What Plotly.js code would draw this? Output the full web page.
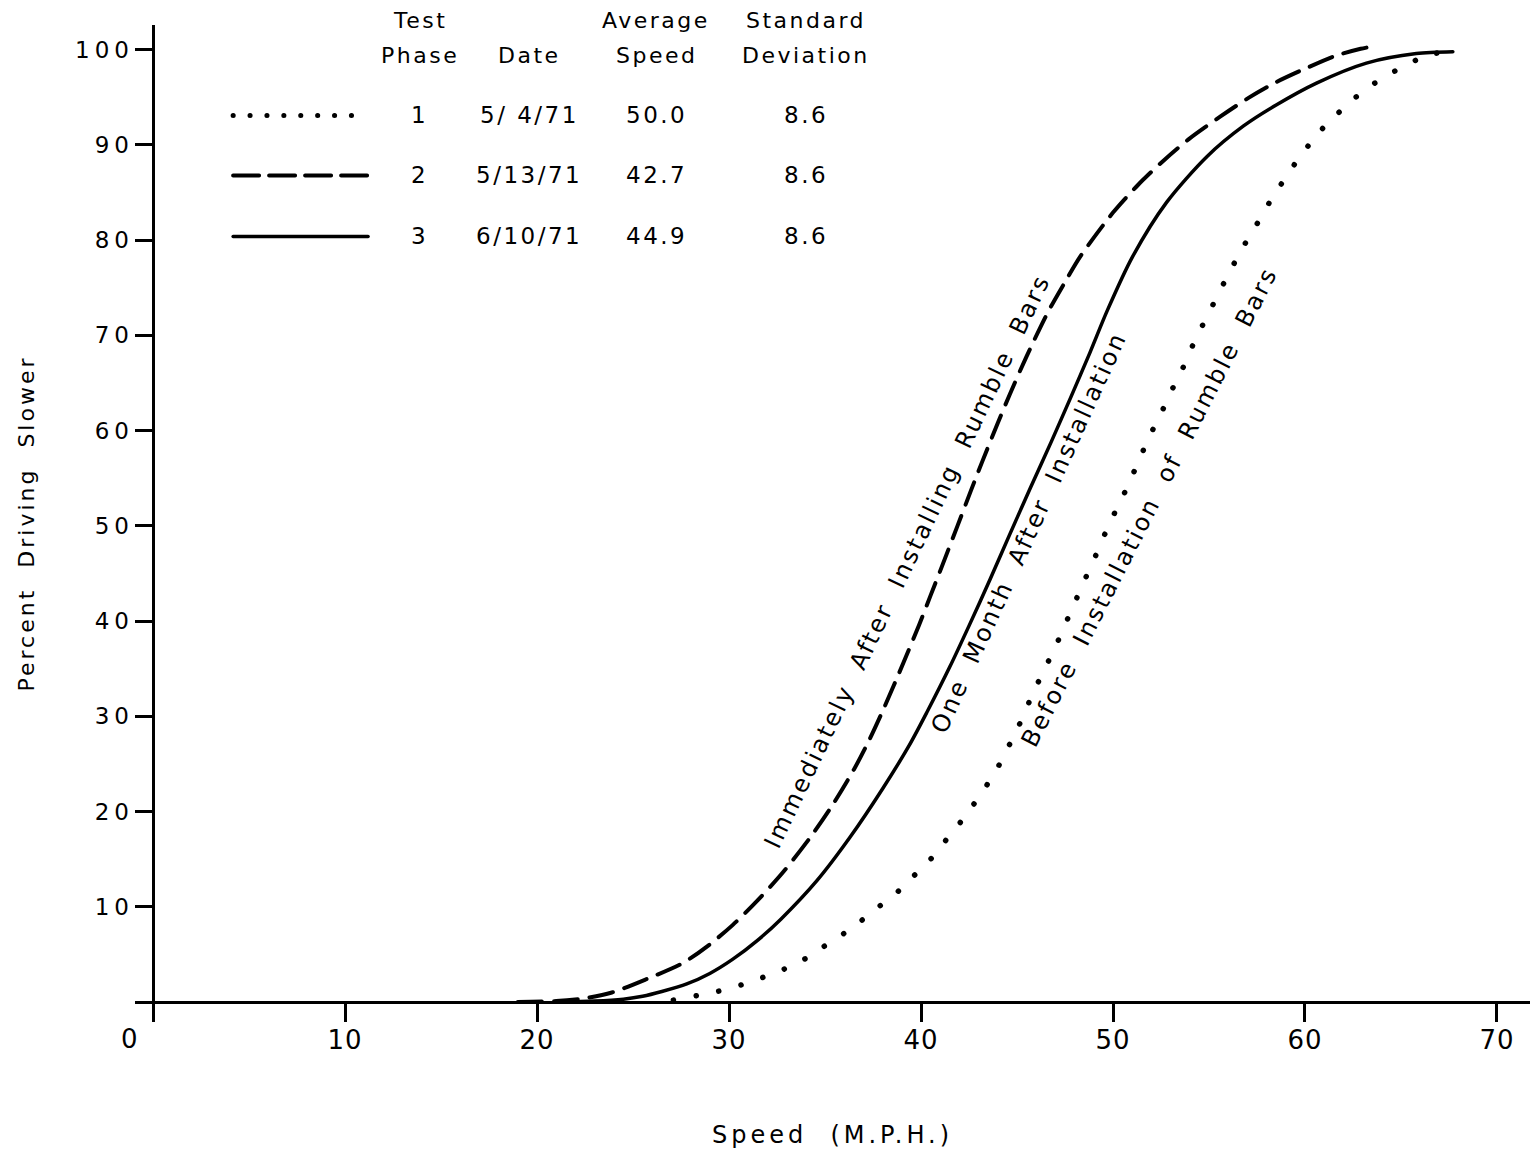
<!DOCTYPE html>
<html>
<head>
<meta charset="utf-8">
<script src="https://cdn.plot.ly/plotly-3.0.1.min.js"></script>
<style>
  body { margin: 0; background: #fff; }
  #chart { width: 1533px; height: 1159px; }
  .ytick text { letter-spacing: 5px; }
  .xtick text { letter-spacing: 1px; }
  .xtitle { letter-spacing: 4px; }
  .ytitle { letter-spacing: 3px; }
  .annotation-text { letter-spacing: 2.5px; }
  .js-line { stroke-linecap: round; }
  .shapelayer path { stroke-linecap: round; }
</style>
</head>
<body>
<div id="chart"></div>
<script>
// ---- Data ----
// Phase 1 (dotted) - Before installation of rumble bars
const phase1Speed = [27.1, 28.4, 29.8, 31.1, 32.3, 33.6, 34.6, 35.7, 36.8, 37.8, 38.8, 39.6, 40.5, 41.3, 42.1, 42.9, 43.5, 44.1, 44.7, 45.3, 45.8, 46.4, 47.0, 47.5, 48.0, 48.5, 49.3, 49.8, 50.4, 50.9, 51.4, 51.9, 52.5, 53.0, 53.6, 54.0, 54.6, 55.2, 55.8, 56.4, 57.1, 57.8, 58.3, 58.9, 59.5, 60.2, 60.9, 61.6, 62.4, 63.2, 64.1, 64.9, 66.0, 67.9];
const phase1Pct   = [0.2, 0.7, 1.3, 2.1, 3.0, 4.1, 5.4, 6.8, 8.4, 10.0, 11.6, 13.2, 15.0, 17.0, 19.0, 21.2, 23.0, 25.0, 27.4, 29.9, 32.3, 34.8, 37.3, 39.6, 41.9, 44.2, 47.8, 50.2, 52.6, 54.8, 57.1, 59.4, 61.8, 64.0, 66.4, 68.3, 70.8, 73.2, 75.6, 77.9, 80.4, 82.7, 84.5, 86.3, 88.1, 90.0, 91.7, 93.1, 94.6, 95.9, 97.1, 98.0, 99.1, 100.2];

// Phase 2 (dashed) - Immediately after installing rumble bars
const phase2Speed = [19.0, 21.0, 22.5, 23.9, 25.7, 27.6, 28.9, 30.2, 31.5, 32.8, 34.2, 35.3, 36.5, 37.3, 38.1, 39.1, 39.9, 40.5, 41.1, 41.9, 42.6, 43.2, 44.0, 44.6, 45.5, 46.6, 47.5, 48.3, 50.0, 51.3, 52.6, 54.0, 55.6, 57.1, 58.5, 60.1, 61.5, 62.9, 63.4];
const phase2Pct   = [0.0, 0.1, 0.4, 1.0, 2.4, 4.1, 5.9, 8.1, 10.7, 13.6, 17.2, 20.4, 24.4, 27.5, 31.0, 35.7, 39.6, 42.7, 45.8, 50.0, 53.7, 56.8, 60.8, 63.7, 67.8, 72.4, 75.6, 78.3, 82.9, 85.8, 88.3, 90.7, 93.0, 95.0, 96.6, 98.1, 99.3, 100.1, 100.3];

// Phase 3 (solid) - One month after installation
const phase3Speed = [21.0, 23.0, 24.5, 25.5, 26.5, 27.8, 29.0, 30.2, 31.5, 32.7, 34.6, 36.3, 38.0, 39.4, 40.3, 41.5, 42.5, 43.6, 44.6, 45.7, 46.8, 47.8, 48.8, 49.7, 51.0, 52.8, 54.9, 56.8, 58.5, 60.6, 63.2, 65.8, 67.7];
const phase3Pct   = [0.0, 0.1, 0.3, 0.6, 1.1, 1.9, 3.0, 4.5, 6.5, 8.7, 12.8, 17.3, 22.4, 27.0, 30.4, 35.2, 39.5, 44.4, 49.0, 54.0, 58.9, 63.5, 68.2, 72.6, 78.2, 84.0, 88.8, 92.0, 94.2, 96.5, 98.6, 99.6, 99.8];

// Legend table
const tableHeadTop = ['Test', '', 'Average', 'Standard'];
const tableHeadBottom = ['Phase', 'Date', 'Speed', 'Deviation'];
const phases = ['1', '2', '3'];
const dates = ['5/ 4/71', '5/13/71', '6/10/71'];
const avgSpeeds = ['50.0', '42.7', '44.9'];
const stdDevs = ['8.6', '8.6', '8.6'];

// Curve labels
const curveLabels = ['Immediately  After  Installing  Rumble  Bars', 'One  Month  After  Installation', 'Before  Installation  of  Rumble  Bars'];

// Axis ticks
const xTickVals = [0, 10, 20, 30, 40, 50, 60, 70];
const xTickText = ['0', '10', '20', '30', '40', '50', '60', '70'];
const yTickVals = [10, 20, 30, 40, 50, 60, 70, 80, 90, 100];
const yTickText = ['10', '20', '30', '40', '50', '60', '70', '80', '90', '100'];

const FONT = 'DejaVu Sans, Liberation Sans, sans-serif';

const traces = [
  { x: phase1Speed, y: phase1Pct, mode: 'lines', line: { color: '#000', width: 5.5, dash: '0.1px,23px', shape: 'spline', smoothing: 0.8 }, hoverinfo: 'skip', showlegend: false },
  { x: phase2Speed, y: phase2Pct, mode: 'lines', line: { color: '#000', width: 4, dash: '24px,12px', shape: 'spline', smoothing: 0.8 }, hoverinfo: 'skip', showlegend: false },
  { x: phase3Speed, y: phase3Pct, mode: 'lines', line: { color: '#000', width: 3.5, shape: 'spline', smoothing: 0.8 }, hoverinfo: 'skip', showlegend: false }
];

// Table layout positions
const colX = [13.9, 19.6, 26.2, 34.0];
const headYBottom = 99.4;
const rowY = [93.1, 86.8, 80.4];
const sampleX0 = 4.17, sampleX1 = 11.2;
const sampleDash = ['0.1px,16.8px', '26px,10px', 'solid'];
const sampleWidth = [5, 4, 3.5];

const annotations = [];
const tfont = { family: FONT, size: 22, color: '#000' };
tableHeadTop.forEach((t, i) => { if (t) annotations.push({ x: colX[i], y: 1, xref: 'x', yref: 'paper', yanchor: 'middle', yshift: 5, text: t, showarrow: false, font: tfont }); });
tableHeadBottom.forEach((t, i) => annotations.push({ x: colX[i], y: headYBottom, xref: 'x', yref: 'y', yanchor: 'middle', text: t, showarrow: false, font: tfont }));
const rowFont = { family: FONT, size: 23, color: '#000' };
phases.forEach((p, i) => {
  [p, dates[i], avgSpeeds[i], stdDevs[i]].forEach((t, j) => {
    annotations.push({ x: colX[j], y: rowY[i], xref: 'x', yref: 'y', text: t, showarrow: false, font: rowFont });
  });
});

// Curve labels along curves
const labelPos = [
  { x: 39.3, y: 46.3, angle: -64.5 },
  { x: 45.6, y: 49.3, angle: -65.5 },
  { x: 51.9, y: 52.0, angle: -63 }
];
curveLabels.forEach((t, i) => annotations.push({
  x: labelPos[i].x, y: labelPos[i].y, xref: 'x', yref: 'y', text: t, showarrow: false,
  textangle: labelPos[i].angle, font: { family: FONT, size: 24, color: '#000' }
}));

// "0" tick label offset to the left of the vertical axis
annotations.push({ x: xTickVals[0], y: 0, xref: 'x', yref: 'paper', yanchor: 'top', xshift: -23, yshift: 0,
  text: xTickText[0], showarrow: false, font: { family: FONT, size: 26, color: '#000' } });

const shapes = phases.map((p, i) => ({
  type: 'line', xref: 'x', yref: 'y', x0: sampleX0, x1: sampleX1, y0: rowY[i], y1: rowY[i],
  line: { color: '#000', width: sampleWidth[i], dash: sampleDash[i] }
}));

const layout = {
  width: 1533, height: 1159,
  margin: { l: 135, r: 3, t: 25, b: 137 },
  paper_bgcolor: '#fff', plot_bgcolor: '#fff',
  showlegend: false,
  xaxis: {
    range: [-0.94, 71.72], tickvals: xTickVals, ticktext: xTickText.map((t, i) => i === 0 ? '' : t),
    ticks: 'inside', ticklen: 20, tickwidth: 3, tickcolor: '#000',
    showgrid: false, showline: false, zeroline: true, zerolinecolor: '#000', zerolinewidth: 3,
    tickfont: { family: FONT, size: 26, color: '#000' }, ticklabelstandoff: 0,
    title: { text: 'Speed  (M.P.H.)', font: { family: FONT, size: 24, color: '#000' }, standoff: 72 },
    fixedrange: true
  },
  yaxis: {
    range: [-2.1, 102.6], tickvals: yTickVals, ticktext: yTickText,
    ticks: 'inside', ticklen: 20, tickwidth: 3, tickcolor: '#000',
    showgrid: false, showline: false, zeroline: true, zerolinecolor: '#000', zerolinewidth: 3,
    tickfont: { family: FONT, size: 23, color: '#000' }, ticklabelstandoff: 0,
    title: { text: 'Percent  Driving  Slower', font: { family: FONT, size: 22, color: '#000' }, standoff: 34 },
    fixedrange: true
  },
  annotations: annotations,
  shapes: shapes
};

Plotly.newPlot('chart', traces, layout, { displayModeBar: false, staticPlot: true });
</script>
</body>
</html>
